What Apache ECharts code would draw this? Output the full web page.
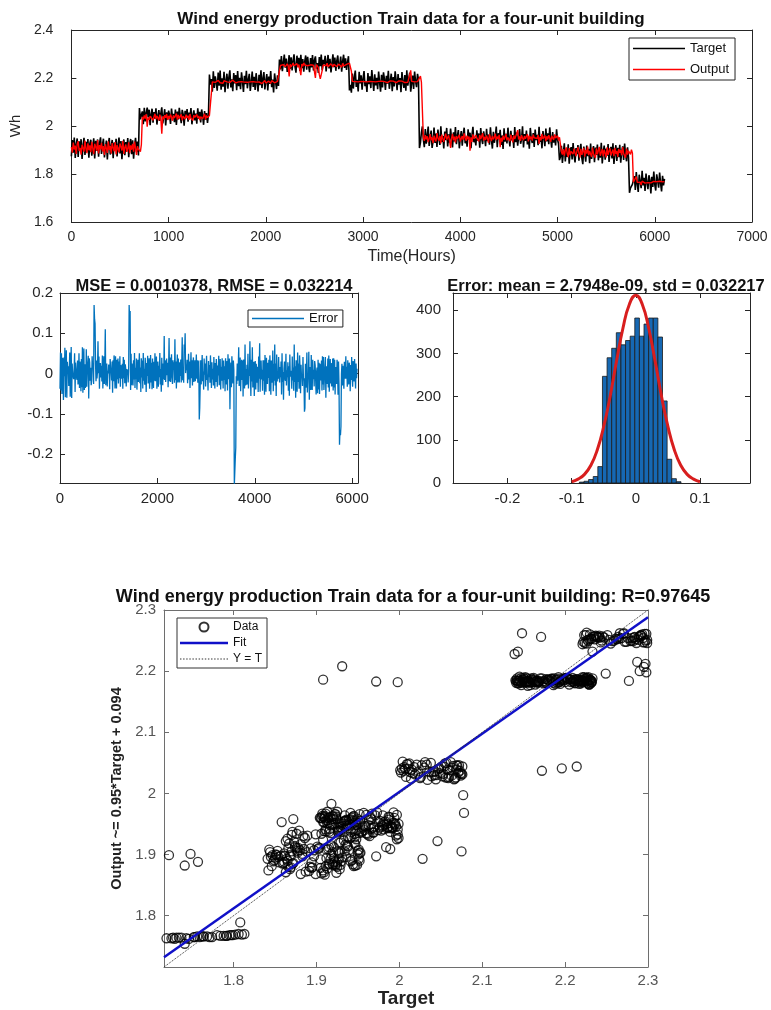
<!DOCTYPE html>
<html>
<head>
<meta charset="utf-8">
<title>Wind energy production Train data for a four-unit building</title>
<script src="https://cdn.jsdelivr.net/npm/echarts@6.0.0/dist/echarts.min.js"></script>
<style>
  html, body { margin: 0; padding: 0; background: #fff; }
  #chart { width: 771px; height: 1010px; }
</style>
</head>
<body>
<div id="chart"></div>
<script>
// one sample every 10 hours
var stepHours = 10;

// target / network output, one pair of arrays per level of the series
var target1 = [1.874,1.941,1.889,1.952,1.867,1.923,1.948,1.871,1.936,1.902,
               1.945,1.863,1.918,1.951,1.879,1.934,1.894,1.946,1.868,1.927,
               1.943,1.876,1.912,1.949,1.865,1.938,1.897,1.944,1.872,1.929,
               1.953,1.884,1.921,1.947,1.869,1.908,1.939,1.861,1.926,1.950,
               1.881,1.915,1.942,1.866,1.931,1.899,1.947,1.873,1.920,1.952,
               1.886,1.937,1.862,1.910,1.944,1.878,1.933,1.905,1.950,1.870,
               1.925,1.946,1.883,1.940,1.864,1.917,1.951,1.892,1.935,1.877];
var output1 = [1.912,1.889,1.931,1.902,1.918,1.884,1.925,1.937,1.896,1.909,
               1.881,1.922,1.915,1.893,1.939,1.905,1.887,1.928,1.899,1.919,
               1.891,1.934,1.908,1.883,1.926,1.913,1.897,1.941,1.886,1.920,
               1.903,1.930,1.894,1.916,1.879,1.924,1.907,1.888,1.936,1.900,
               1.917,1.885,1.929,1.910,1.895,1.933,1.882,1.921,1.904,1.890,
               1.927,1.914,1.898,1.938,1.884,1.911,1.923,1.892,1.906,1.932,
               1.887,1.919,1.901,1.926,1.893,1.935,1.908,1.880,1.916,1.903];

var target2 = [2.075,2.028,2.046,2.061,2.008,2.076,2.019,2.055,2.077,2.036,
               2.068,2.003,2.049,2.072,2.014,2.058,2.031,2.074,2.006,2.043,
               2.066,2.021,2.053,2.078,2.011,2.039,2.070,2.002,2.057,2.025,
               2.064,2.045,2.009,2.073,2.034,2.051,2.016,2.069,2.004,2.060,
               2.027,2.076,2.041,2.012,2.067,2.048,2.001,2.063,2.033,2.071,
               2.018,2.056,2.038,2.075,2.007,2.044,2.065,2.023,2.052,2.010,
               2.074,2.030,2.059,2.015,2.069,2.042,2.005,2.062,2.026,2.054,
               2.013,2.047];
var output2 = [1.905,1.893,1.922,2.038,2.027,2.044,2.031,2.049,1.997,2.035,
               2.026,2.041,2.033,2.046,2.024,2.039,2.051,2.029,2.043,2.036,
               2.023,2.047,2.032,1.968,2.040,2.028,2.045,2.034,2.050,2.025,
               2.042,2.030,2.048,2.037,2.022,2.044,2.033,2.039,2.052,2.027,
               2.046,2.031,2.035,2.049,2.024,2.041,2.038,2.029,2.047,2.034,
               2.043,2.026,2.050,2.032,2.040,2.023,2.045,2.036,2.028,2.048,
               2.033,2.042,2.025,2.039,2.046,2.030,2.037,2.051,2.027,2.044,
               2.035,2.040];

var target3 = [2.214,2.172,2.196,2.143,2.228,2.159,2.207,2.181,2.147,2.223,
               2.168,2.231,2.151,2.199,2.164,2.226,2.141,2.189,2.218,2.155,
               2.203,2.232,2.161,2.194,2.145,2.221,2.177,2.212,2.149,2.229,
               2.166,2.201,2.153,2.224,2.186,2.142,2.209,2.174,2.230,2.157,
               2.192,2.217,2.146,2.183,2.227,2.163,2.205,2.150,2.220,2.179,
               2.144,2.213,2.170,2.232,2.158,2.197,2.225,2.152,2.188,2.216,
               2.148,2.206,2.175,2.229,2.162,2.193,2.140,2.219,2.184,2.154,
               2.211,2.167];
var output3 = [2.044,2.037,2.041,2.184,2.179,2.188,2.182,2.186,2.177,2.190,
               2.183,2.180,2.187,2.185,2.178,2.189,2.181,2.186,2.184,2.176,
               2.188,2.182,2.185,2.179,2.191,2.183,2.187,2.180,2.186,2.178,
               2.184,2.189,2.181,2.185,2.177,2.188,2.183,2.180,2.186,2.182,
               2.190,2.179,2.184,2.187,2.181,2.185,2.178,2.189,2.183,2.186,
               2.180,2.184,2.188,2.182,2.177,2.185,2.183,2.190,2.179,2.186,
               2.181,2.187,2.184,2.178,2.189,2.182,2.185,2.180,2.188,2.183,
               2.186,2.181];

var target4 = [2.277,2.236,2.291,2.228,2.264,2.298,2.243,2.281,2.225,2.259,
               2.295,2.238,2.286,2.232,2.271,2.299,2.247,2.222,2.293,2.255,
               2.284,2.229,2.297,2.241,2.279,2.226,2.268,2.294,2.235,2.288,
               2.251,2.224,2.283,2.244,2.296,2.231,2.274,2.290,2.239,2.262,
               2.221,2.287,2.249,2.298,2.233,2.276,2.257,2.292,2.227,2.266,
               2.296,2.240,2.280,2.223,2.261,2.299,2.245,2.285,2.230,2.272,
               2.294,2.237,2.253,2.289,2.226,2.270,2.297,2.242,2.282,2.234,
               2.265,2.291];
var output4 = [2.184,2.252,2.258,2.249,2.256,2.261,2.247,2.254,2.259,2.250,
               2.207,2.257,2.246,2.253,2.262,2.251,2.255,2.248,2.260,2.245,
               2.256,2.252,2.212,2.258,2.249,2.263,2.254,2.247,2.257,2.251,
               2.259,2.246,2.255,2.250,2.261,2.253,2.248,2.200,2.256,2.252,
               2.244,2.215,2.196,2.198,2.232,2.254,2.249,2.258,2.251,2.262,
               2.247,2.255,2.250,2.259,2.253,2.246,2.257,2.252,2.260,2.248,
               2.254,2.258,2.251,2.256,2.245,2.261,2.250,2.255,2.249,2.257,
               2.253,2.259];

var target5 = [2.148,2.171,2.139,2.219,2.156,2.203,2.231,2.163,2.192,2.144,
               2.226,2.178,2.211,2.151,2.198,2.229,2.166,2.184,2.142,2.221,
               2.174,2.207,2.158,2.233,2.189,2.146,2.215,2.169,2.201,2.153,
               2.227,2.181,2.143,2.213,2.161,2.224,2.195,2.150,2.209,2.176,
               2.230,2.155,2.187,2.218,2.145,2.204,2.165,2.228,2.191,2.149,
               2.216,2.172,2.200,2.141,2.225,2.183,2.159,2.212,2.147,2.232,
               2.168,2.196,2.222,2.143,2.179,2.210,2.154,2.227,2.186,2.162,
               2.217,2.193];
var output5 = [2.262,2.256,2.228,2.186,2.183,2.188,2.185,2.182,2.187,2.184,
               2.189,2.181,2.186,2.183,2.188,2.185,2.182,2.187,2.184,2.190,
               2.183,2.186,2.181,2.188,2.185,2.182,2.187,2.184,2.189,2.183,
               2.186,2.184,2.180,2.187,2.182,2.188,2.185,2.183,2.189,2.181,
               2.186,2.184,2.188,2.182,2.185,2.187,2.183,2.190,2.181,2.186,
               2.184,2.188,2.182,2.185,2.187,2.183,2.186,2.181,2.189,2.184,
               2.182,2.187,2.185,2.232,2.186,2.183,2.188,2.184,2.181,2.187,
               2.185,2.183];

var target6 = [1.908,1.931,1.972,1.998,1.944,1.912,1.987,1.926,1.963,1.998,
               1.917,1.952,1.981,1.909,1.938,1.994,1.929,1.968,1.913,1.985,
               1.947,1.921,1.999,1.934,1.958,1.906,1.977,1.941,1.992,1.915,
               1.965,1.931,1.989,1.948,1.911,1.974,1.936,1.996,1.924,1.959,
               1.983,1.907,1.951,1.979,1.918,1.966,1.993,1.928,1.955,1.914,
               1.986,1.943,1.972,1.908,1.961,1.997,1.932,1.949,1.919,1.982,
               1.939,1.969,1.910,1.991,1.946,1.925,1.978,1.953,1.916,1.988,
               1.937,1.964,1.922,1.995,1.942,1.906,1.976,1.930,1.957,1.998,
               1.912,1.970,1.945,1.984,1.921,1.960,1.904,1.990,1.935,1.967,
               1.927,1.993,1.950,1.915,1.980,1.940,1.962,1.909,1.996,1.933,
               1.973,1.918,1.956,1.987,1.926,1.944,1.999,1.911,1.966,1.938,
               1.981,1.923,1.954,1.905,1.992,1.948,1.929,1.971,1.913,1.985,
               1.941,1.963,1.920,1.997,1.934,1.958,1.907,1.979,1.951,1.916,
               1.989,1.936,1.969,1.924,1.994,1.946,1.910,1.975,1.931,1.960,
               1.919,1.986,1.943,1.927];
var output6 = [2.186,2.208,2.183,2.182,1.951,1.938,1.962,1.944,1.957,1.933,
               1.948,1.966,1.941,1.953,1.929,1.960,1.945,1.936,1.970,1.950,
               1.939,1.958,1.927,1.964,1.947,1.934,1.955,1.968,1.943,1.952,
               1.961,1.937,1.909,1.949,1.967,1.940,1.956,1.931,1.959,1.946,
               1.954,1.963,1.935,1.948,1.958,1.942,1.969,1.951,1.938,1.960,
               1.944,1.956,1.897,1.953,1.934,1.965,1.947,1.940,1.962,1.949,
               1.957,1.936,1.963,1.945,1.952,1.970,1.939,1.955,1.942,1.961,
               1.948,1.930,1.966,1.950,1.937,1.959,1.944,1.953,1.968,1.941,
               1.956,1.946,1.963,1.912,1.951,1.935,1.960,1.943,1.955,1.967,
               1.940,1.952,1.958,1.937,1.964,1.949,1.932,1.961,1.946,1.954,
               1.969,1.983,1.944,1.957,1.938,1.962,1.950,1.941,1.958,1.947,
               1.953,1.966,1.936,1.960,1.945,1.956,1.939,1.964,1.951,1.943,
               1.958,1.948,1.963,1.925,1.955,1.940,1.967,1.946,1.952,1.961,
               1.937,1.957,1.944,1.962,1.949,1.934,1.959,1.953,1.942,1.965,
               1.950,1.945,1.960,1.939];

var target7 = [1.858,1.872,1.917,1.846,1.889,1.928,1.852,1.903,1.871,1.924,
               1.843,1.895,1.912,1.861,1.929,1.877,1.848,1.908,1.883,1.921,
               1.855,1.899,1.926,1.866,1.841,1.914,1.887,1.851,1.919,1.874,
               1.905,1.845,1.927,1.863,1.893,1.916,1.849,1.910,1.880,1.923,
               1.857,1.901,1.868,1.930,1.844,1.891,1.918,1.860,1.906,1.876,
               1.925,1.850,1.897,1.913,1.865,1.928,1.842,1.885,1.920,1.854,
               1.909,1.870,1.922,1.847,1.894,1.915,1.859,1.927,1.881,1.853,
               1.911,1.869];
var output7 = [1.953,1.958,1.893,1.881,1.904,1.876,1.899,1.911,1.885,1.870,
               1.908,1.879,1.894,1.902,1.883,1.906,1.889,1.874,1.897,1.912,
               1.887,1.868,1.905,1.880,1.893,1.909,1.872,1.900,1.885,1.914,
               1.878,1.896,1.903,1.871,1.910,1.884,1.891,1.867,1.907,1.882,
               1.898,1.913,1.876,1.889,1.904,1.873,1.901,1.886,1.869,1.911,
               1.880,1.895,1.907,1.877,1.890,1.902,1.874,1.909,1.883,1.896,
               1.871,1.905,1.888,1.899,1.878,1.912,1.885,1.893,1.868,1.906,
               1.881,1.897];

var target8 = [1.722,1.741,1.748,1.757,1.764,1.791,1.734,1.808,1.759,1.725,
               1.797,1.768,1.741,1.813,1.752,1.784,1.729,1.802,1.763,1.737,
               1.795,1.774,1.719,1.788,1.746,1.810,1.756,1.731,1.799,1.771,
               1.743,1.806,1.761,1.727,1.792,1.753,1.780];
var output8 = [1.899,1.882,1.901,1.888,1.766,1.767,1.764,1.789,1.765,1.763,
               1.768,1.766,1.754,1.770,1.765,1.767,1.762,1.769,1.766,1.764,
               1.768,1.765,1.763,1.767,1.762,1.769,1.766,1.764,1.768,1.765,
               1.763,1.770,1.766,1.764,1.767,1.765,1.768];

// error histogram (bin centres, counts) and the fitted normal curve
var binWidth = 0.0072;
var binCenters = [-0.0844,-0.0772,-0.0700,-0.0628,-0.0556,-0.0484,-0.0412,-0.0340,-0.0268,-0.0196,-0.0124,-0.0052,0.0020,0.0092,0.0164,0.0236,0.0308,0.0380,0.0452,0.0524,0.0596,0.0668];
var binCounts = [2,4,8,15,38,247,290,312,348,320,330,340,382,340,368,382,382,338,190,55,10,3];
var normalX = [-0.1,-0.09,-0.08,-0.07,-0.06,-0.05,-0.04,-0.03,-0.02,-0.01,0,0.01,0.02,0.03,0.04,0.05,0.06,0.07,0.08,0.09,0.1];
var normalY = [3,9,20,41,77,131,201,283,359,414,435,414,359,283,201,131,77,41,20,9,3];

// regression lines
var fitLine = [[1.716, 1.732], [2.3, 2.288]];
var identityLine = [[1.716, 1.716], [2.3, 2.3]];

// tick labels
var hourTicks = [0,1000,2000,3000,4000,5000,6000,7000];
var whTicks = [1.6,1.8,2,2.2,2.4];
var errHourTicks = [0,2000,4000,6000];
var errTicks = [-0.2,-0.1,0,0.1,0.2];
var histXTicks = [-0.2,-0.1,0,0.1];
var histYTicks = [0,100,200,300,400];
var regTicks = [1.8,1.9,2,2.1,2.2,2.3];

var FONT = "'Liberation Sans', Arial, Helvetica, sans-serif";

var targetAll = [].concat(target1,target2,target3,target4,target5,target6,target7,target8);
var outputAll = [].concat(output1,output2,output3,output4,output5,output6,output7,output8);

var targetLine = [], outputLine = [], errorLine = [], pairs = [];
for (var i = 0; i < targetAll.length; i++) {
    var h = i * stepHours;
    targetLine.push([h, targetAll[i]]);
    outputLine.push([h, outputAll[i]]);
    errorLine.push([h, +(targetAll[i] - outputAll[i]).toFixed(4)]);
    pairs.push([targetAll[i], outputAll[i]]);
}
var bins = binCenters.map(function (c, k) { return [c, binCounts[k]]; });
var normalCurve = normalX.map(function (x, k) { return [x, normalY[k]]; });

// legend icons: plain line and dotted line
var lineIcon = 'path://M0,0H52V1.3H0Z';
var fitIcon = 'path://M0,0H48V2.4H0Z';
var dotIcon = 'path://';
for (var d = 0; d < 48; d += 3) dotIcon += 'M' + d + ',0H' + (d + 1.4) + 'V1H' + d + 'Z';

function plain(v) { return String(v); }

function axis(grid, pos, min, max, ticks, o) {
    o = o || {};
    var c = o.color || '#262626';
    return {
        type: 'value', gridIndex: grid, position: pos, min: min, max: max,
        name: o.name || '', nameLocation: 'middle', nameGap: o.nameGap || 0,
        nameTextStyle: { color: o.nameColor || '#262626', fontSize: o.nameSize || 15, fontWeight: o.nameWeight || 'normal', fontFamily: FONT },
        axisLine: { show: true, onZero: false, lineStyle: { color: c, width: 1 } },
        axisTick: { show: true, inside: true, length: 5, customValues: ticks, lineStyle: { color: c } },
        axisLabel: { show: !!o.labels, customValues: ticks, formatter: plain, color: o.labelColor || '#262626',
                     fontSize: o.fontSize || 14, fontFamily: FONT, margin: o.margin || 8 },
        splitLine: { show: false }
    };
}

function renderBin(params, api) {
    var lo = api.coord([api.value(0) - binWidth / 2, 0]);
    var hi = api.coord([api.value(0) + binWidth / 2, api.value(1)]);
    return {
        type: 'rect',
        shape: { x: lo[0], y: hi[1], width: hi[0] - lo[0], height: lo[1] - hi[1] },
        style: { fill: '#1668b3', stroke: '#1a1a1a', lineWidth: 0.8 }
    };
}

var chart = echarts.init(document.getElementById('chart'));
chart.setOption({
    animation: false,
    backgroundColor: '#fff',
    title: [
        { text: 'Wind energy production Train data for a four-unit building', left: 406, top: 6, textAlign: 'center',
          textStyle: { fontSize: 17, fontWeight: 'bold', color: '#111', fontFamily: FONT } },
        { text: 'MSE = 0.0010378, RMSE = 0.032214', left: 209, top: 273, textAlign: 'center',
          textStyle: { fontSize: 16.5, fontWeight: 'bold', color: '#111', fontFamily: FONT } },
        { text: 'Error: mean = 2.7948e-09, std = 0.032217', left: 601, top: 273, textAlign: 'center',
          textStyle: { fontSize: 16.5, fontWeight: 'bold', color: '#111', fontFamily: FONT } },
        { text: 'Wind energy production Train data for a four-unit building: R=0.97645', left: 408, top: 583, textAlign: 'center',
          textStyle: { fontSize: 18, fontWeight: 'bold', color: '#111', fontFamily: FONT } }
    ],
    legend: [
        { left: 629, top: 38, orient: 'vertical',
          data: [{ name: 'Target', icon: lineIcon }, { name: 'Output', icon: lineIcon }],
          itemWidth: 52, itemHeight: 12, itemGap: 8, padding: [4, 6, 4, 4],
          borderColor: '#222', borderWidth: 1,
          textStyle: { fontSize: 13, color: '#111', fontFamily: FONT } },
        { left: 248, top: 310, data: [{ name: 'Error', icon: lineIcon }],
          itemWidth: 52, itemHeight: 10, padding: [2, 5, 2, 4],
          borderColor: '#222', borderWidth: 1,
          textStyle: { fontSize: 13, color: '#111', fontFamily: FONT } },
        { left: 177, top: 618, orient: 'vertical',
          data: [{ name: 'Data', icon: 'circle' }, { name: 'Fit', icon: fitIcon }, { name: 'Y = T', icon: dotIcon }],
          itemWidth: 48, itemHeight: 9, itemGap: 4, padding: [3, 5, 3, 3],
          borderColor: '#333', borderWidth: 1,
          textStyle: { fontSize: 12, color: '#111', fontFamily: FONT } }
    ],
    grid: [
        { left: 60, top: 30, width: 692, height: 192 },
        { left: 60, top: 293, width: 298, height: 190 },
        { left: 453, top: 293, width: 297, height: 190 },
        { left: 164, top: 610, width: 484, height: 357 }
    ],
    xAxis: [
        axis(0, 'bottom', 0, 7000, hourTicks, { labels: true, name: 'Time(Hours)', nameGap: 27, nameSize: 16 }),
        axis(0, 'top', 0, 7000, hourTicks),
        axis(1, 'bottom', 0, 6120, errHourTicks, { labels: true, fontSize: 15 }),
        axis(1, 'top', 0, 6120, errHourTicks),
        axis(2, 'bottom', -0.285, 0.178, histXTicks, { labels: true, fontSize: 15 }),
        axis(2, 'top', -0.285, 0.178, histXTicks),
        axis(3, 'bottom', 1.716, 2.3, regTicks, { labels: true, color: '#6e6e6e', labelColor: '#555', margin: 6, fontSize: 15,
            name: 'Target', nameGap: 22, nameSize: 19, nameWeight: 'bold', nameColor: '#222' }),
        axis(3, 'top', 1.716, 2.3, regTicks, { color: '#6e6e6e' })
    ],
    yAxis: [
        axis(0, 'left', 1.6, 2.4, whTicks, { labels: true, margin: 18, name: 'Wh', nameGap: 24, nameSize: 15 }),
        axis(0, 'right', 1.6, 2.4, whTicks),
        axis(1, 'left', -0.272, 0.2, errTicks, { labels: true, fontSize: 15, margin: 7 }),
        axis(1, 'right', -0.272, 0.2, errTicks),
        axis(2, 'left', 0, 440, histYTicks, { labels: true, fontSize: 15, margin: 12 }),
        axis(2, 'right', 0, 440, histYTicks),
        axis(3, 'left', 1.716, 2.3, regTicks, { labels: true, color: '#6e6e6e', labelColor: '#555', margin: 8, fontSize: 15,
            name: 'Output ~= 0.95*Target + 0.094', nameGap: 38, nameSize: 14.5, nameWeight: 'bold', nameColor: '#222' }),
        axis(3, 'right', 1.716, 2.3, regTicks, { color: '#6e6e6e' })
    ],
    series: [
        { name: 'Target', type: 'line', xAxisIndex: 0, yAxisIndex: 0, data: targetLine,
          symbol: 'none', color: '#000', lineStyle: { color: '#000', width: 1.6 } },
        { name: 'Output', type: 'line', xAxisIndex: 0, yAxisIndex: 0, data: outputLine,
          symbol: 'none', color: '#ff0000', lineStyle: { color: '#ff0000', width: 1.4 } },
        { name: 'Error', type: 'line', xAxisIndex: 2, yAxisIndex: 2, data: errorLine,
          symbol: 'none', color: '#0072bd', lineStyle: { color: '#0072bd', width: 1.3 } },
        { name: 'Histogram', type: 'custom', xAxisIndex: 4, yAxisIndex: 4, data: bins,
          renderItem: renderBin, encode: { x: 0, y: 1 } },
        { name: 'Normal fit', type: 'line', xAxisIndex: 4, yAxisIndex: 4, data: normalCurve,
          smooth: true, symbol: 'none', lineStyle: { color: '#d81e1e', width: 3 } },
        { name: 'Data', type: 'scatter', xAxisIndex: 6, yAxisIndex: 6, data: pairs,
          symbol: 'circle', symbolSize: 9,
          itemStyle: { color: 'rgba(0,0,0,0)', borderColor: '#000', borderWidth: 1.3 } },
        { name: 'Fit', type: 'line', xAxisIndex: 6, yAxisIndex: 6, data: fitLine,
          symbol: 'none', color: '#1010c8', lineStyle: { color: '#1010c8', width: 2.5 } },
        { name: 'Y = T', type: 'line', xAxisIndex: 6, yAxisIndex: 6, data: identityLine,
          symbol: 'none', color: '#333', lineStyle: { color: '#333', width: 1, type: 'dotted' } }
    ]
});
</script>
</body>
</html>
